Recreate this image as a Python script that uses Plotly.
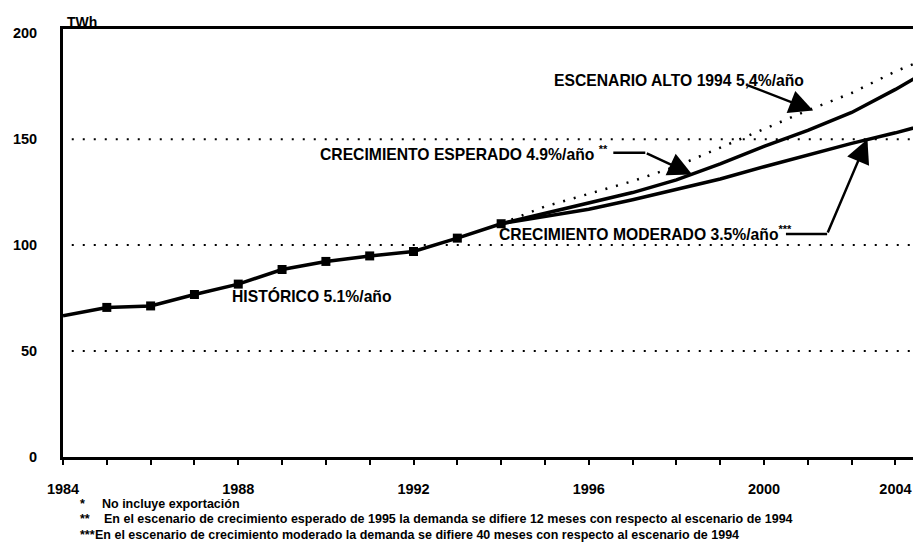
import plotly.graph_objects as go

# ---------------- data ----------------
hist_years = list(range(1984, 1995))
hist_twh = [66.7, 70.6, 71.3, 76.7, 81.6, 88.5, 92.3, 94.9, 97.0, 103.3, 110.1]

scen_years = list(range(1994, 2005))
alto_twh = [110.1, 118.2, 124.2, 130.2, 137.2, 146.1, 154.8, 163.6, 171.8, 182.0, 190.5]
esperado_twh = [110.1, 115.1, 119.9, 124.8, 130.8, 138.3, 146.6, 154.2, 162.6, 173.5, 185.5]
moderado_twh = [110.1, 113.5, 116.9, 121.4, 126.1, 131.2, 137.0, 142.5, 148.0, 153.0, 158.5]

y_tick_vals = [0, 50, 100, 150, 200]
grid_levels = [50, 100, 150]
x_tick_years = list(range(1984, 2004))
x_tick_labels = {1984: "1984", 1988: "1988", 1992: "1992", 1996: "1996", 2000: "2000", 2003: "2004"}

label_alto = "ESCENARIO ALTO 1994 5,4%/año"
label_esperado = "CRECIMIENTO ESPERADO 4.9%/año <sup>**</sup>"
label_moderado = "CRECIMIENTO MODERADO 3.5%/año<sup>***</sup>"
label_hist = "HISTÓRICO 5.1%/año"
unit_label = "TWh"
footnote_marks = ["*", "**", "***"]
footnotes = [
    "No incluye exportación",
    "En el escenario de crecimiento esperado de 1995 la demanda se difiere 12 meses con respecto al escenario de 1994",
    "En el escenario de crecimiento moderado la demanda se difiere 40 meses con respecto al escenario de 1994",
]

# ---------------- figure ----------------
W, H = 913, 551
ML, MR, MT = 63, 0, 29
PLOT_BOTTOM = 457
MB = H - PLOT_BOTTOM
PW, PH = W - ML - MR, PLOT_BOTTOM - MT

def paper_x(px):             # px: page pixel
    return (px - ML) / PW

def paper_y(py):             # py: page pixel
    return (PLOT_BOTTOM - py) / PH

FONT = "Liberation Sans, Arial, Helvetica, sans-serif"
BLACK = "#000000"
DOT = "2px,9px"

fig = go.Figure()

fig.add_trace(go.Scatter(x=scen_years, y=alto_twh, mode="lines",
                         line=dict(color=BLACK, width=2.5, dash=DOT), hoverinfo="skip"))
fig.add_trace(go.Scatter(x=scen_years, y=esperado_twh, mode="lines",
                         line=dict(color=BLACK, width=3.5), hoverinfo="skip"))
fig.add_trace(go.Scatter(x=scen_years, y=moderado_twh, mode="lines",
                         line=dict(color=BLACK, width=3.5), hoverinfo="skip"))
fig.add_trace(go.Scatter(x=hist_years, y=hist_twh, mode="lines",
                         line=dict(color=BLACK, width=3.5), hoverinfo="skip"))
fig.add_trace(go.Scatter(x=hist_years[1:], y=hist_twh[1:], mode="markers",
                         marker=dict(symbol="square", size=9, color=BLACK), hoverinfo="skip"))

shapes = []
for lv in grid_levels:
    shapes.append(dict(type="line", xref="x", yref="y", x0=1984.2, x1=2003.4, y0=lv, y1=lv,
                       line=dict(color=BLACK, width=2, dash=DOT), layer="below"))
# horizontal parts of the callout leaders
shapes.append(dict(type="line", xref="x", yref="y", x0=1996.56, x1=1997.29, y0=143.6, y1=143.6,
                   line=dict(color=BLACK, width=2.5)))
shapes.append(dict(type="line", xref="x", yref="y", x0=2000.5, x1=2001.44, y0=105.2, y1=105.2,
                   line=dict(color=BLACK, width=2.5)))

tf = dict(family=FONT, size=15.7, color=BLACK, weight="bold")
arrow = dict(xref="x", yref="y", axref="x", ayref="y", showarrow=True,
             arrowhead=2, arrowsize=1.9, arrowwidth=2.5, arrowcolor=BLACK)
annotations = [
    dict(text=label_alto, x=1995.16, y=177.5, xref="x", yref="y", xanchor="left", showarrow=False, font=tf),
    dict(text=label_esperado, x=1989.82, y=143.4, xref="x", yref="y", xanchor="left", showarrow=False, font=tf),
    dict(text=label_moderado, x=1993.91, y=105.5, xref="x", yref="y", xanchor="left", showarrow=False, font=tf),
    dict(text=label_hist, x=1987.81, y=76.0, xref="x", yref="y", xanchor="left", showarrow=False, font=tf),
    # arrows
    dict(text="", x=2001.12, y=163.5, ax=1999.6, ay=175.7, **arrow),
    dict(text="", x=1998.36, y=133.3, ax=1997.29, ay=143.6, **arrow),
    dict(text="", x=2002.36, y=150.0, ax=2001.44, ay=105.2, **arrow),
    dict(text=unit_label, x=paper_x(65), y=paper_y(12), xref="paper", yref="paper", xanchor="left",
         showarrow=False, font=dict(family=FONT, size=14, color=BLACK, weight="bold")),
]
fn_y = [513, 528, 544]
fn_x = [100, 102, 93]
for mark, txt, yy, xx in zip(footnote_marks, footnotes, fn_y, fn_x):
    ff = dict(family=FONT, size=12.5, color=BLACK, weight="bold")
    annotations.append(dict(text=mark, x=paper_x(78), y=paper_y(yy), xref="paper", yref="paper",
                            xanchor="left", showarrow=False, font=ff))
    annotations.append(dict(text=txt, x=paper_x(xx), y=paper_y(yy), xref="paper", yref="paper",
                            xanchor="left", showarrow=False, font=ff))

tick_font = dict(family=FONT, size=14.5, color=BLACK, weight="bold")
fig.update_layout(
    width=W, height=H,
    margin=dict(l=ML, r=MR, t=MT, b=MB, pad=0, autoexpand=False),
    paper_bgcolor="white", plot_bgcolor="white",
    showlegend=False,
    shapes=shapes,
    annotations=annotations,
    xaxis=dict(range=[1984, 2003.4], showgrid=False, zeroline=False, automargin=False,
               showline=True, linewidth=3, linecolor=BLACK, mirror=True,
               ticks="outside", ticklen=5, tickwidth=2, tickcolor=BLACK,
               tickvals=x_tick_years, ticktext=[x_tick_labels.get(y, "") for y in x_tick_years],
               tickfont=tick_font, ticklabelstandoff=12),
    yaxis=dict(range=[0, 202], showgrid=False, zeroline=False, automargin=False,
               showline=True, linewidth=3, linecolor=BLACK,
               ticks="", tickvals=y_tick_vals, tickfont=tick_font, ticklabelstandoff=20),
)

fig.write_html("out.html",
               config={"displayModeBar": False, "staticPlot": True},
               post_script="document.body.style.margin='0';document.body.style.overflow='hidden';")
